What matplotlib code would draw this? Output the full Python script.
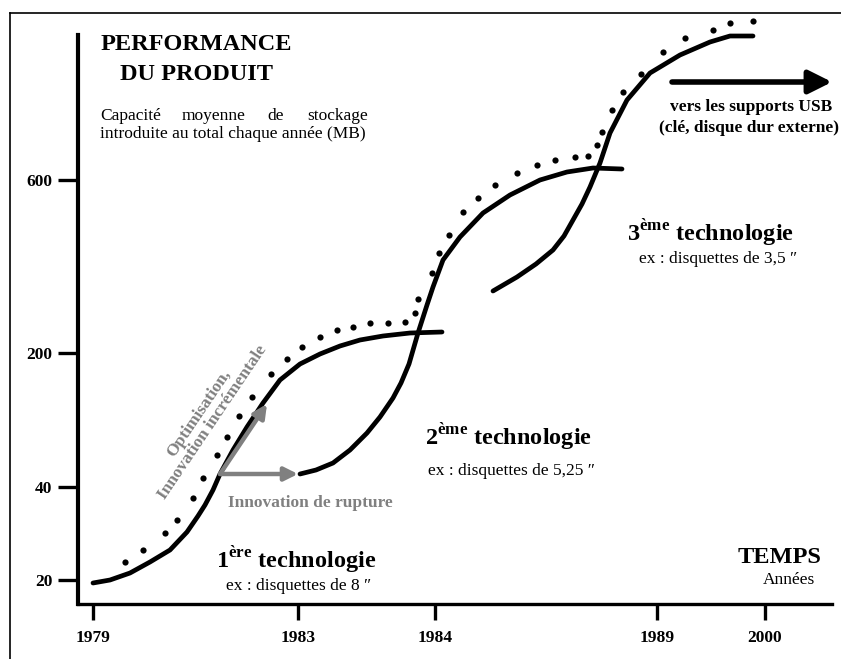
import matplotlib.pyplot as plt
from matplotlib.lines import Line2D

plt.rcParams["font.family"] = ["Liberation Serif", "DejaVu Serif"]
plt.rcParams["mathtext.fontset"] = "custom"
plt.rcParams["mathtext.rm"] = "Liberation Serif"
plt.rcParams["mathtext.bf"] = "Liberation Serif:bold"

# schematic units: time along x, product performance along y
YEAR_POS = [15, 220, 357, 579, 687]
YEAR_LABELS = ["1979", "1983", "1984", "1989", "2000"]
PERF_POS = [24, 117, 251, 424]
PERF_LABELS = ["20", "40", "200", "600"]

# 1st technology (8" floppy)
tech1_x = [15, 32, 52, 72, 92, 109, 120, 127, 135, 142, 155, 169, 185, 202, 222, 242, 262, 282, 305, 332, 364]
tech1_y = [21, 24, 31, 42, 54, 72, 88, 99, 114, 130, 154, 177, 201, 224, 240, 250, 258, 264, 268, 271, 272]

# 2nd technology (5.25" floppy)
tech2_x = [222, 238, 255, 272, 289, 302, 315, 323, 331, 340, 349, 355, 365, 382, 405, 432, 462, 489, 515, 544]
tech2_y = [130, 134, 141, 154, 171, 187, 206, 221, 240, 271, 299, 317, 344, 367, 391, 409, 424, 432, 436, 435]

# 3rd technology (3.5" floppy)
tech3_x = [415, 439, 458, 475, 486, 495, 504, 512, 522, 532, 549, 572, 602, 632, 652, 675]
tech3_y = [313, 327, 340, 354, 368, 384, 400, 417, 441, 471, 504, 531, 549, 562, 568, 568]

# dotted envelope: incremental optimisation of the successive technologies
env_x = [47, 65, 87, 99, 115, 125, 139, 149, 161, 174, 193, 209, 224, 242, 259, 275, 292, 310,
         327, 337, 340, 354, 361, 371, 385, 400, 417, 439, 459, 477, 497, 510, 519, 524, 534,
         545, 563, 585, 607, 635, 652, 675]
env_y = [42, 54, 71, 84, 106, 126, 149, 167, 188, 207, 230, 245, 257, 267, 274, 277, 281, 281,
         282, 291, 305, 331, 351, 369, 392, 406, 419, 431, 439, 444, 447, 448, 459, 472, 494,
         512, 530, 552, 566, 574, 581, 583]

# arrows: (start, end)
incremental_arrow = ((142, 130), (189, 200))
rupture_arrow = ((142, 130), (220, 130))
usb_arrow = ((594, 522), (754, 522))

GRAY = "#808080"
W, H = 841, 659

fig = plt.figure(figsize=(W / 100, H / 100), dpi=100)
fig.patch.set_facecolor("white")

# outer frame (top and left edges only are visible)
fig.add_artist(Line2D([9.5 / W, 1.0], [1 - 13 / H, 1 - 13 / H], color="black", lw=1.2))
fig.add_artist(Line2D([9.5 / W, 9.5 / W], [0.0, 1 - 13 / H], color="black", lw=1.2))

ax = fig.add_axes([78 / W, (H - 604) / H, 754 / W, 600 / H])
ax.set_xlim(0, 754)
ax.set_ylim(0, 600)
ax.patch.set_alpha(0)
for side in ["top", "right"]:
    ax.spines[side].set_visible(False)
ax.spines["left"].set_linewidth(3.0)
ax.spines["bottom"].set_linewidth(2.4)
ax.spines["left"].set_bounds(0, 569)
for sp in ax.spines.values():
    sp.set_capstyle("projecting")

ax.set_xticks(YEAR_POS)
ax.set_xticklabels(YEAR_LABELS, fontweight="bold", fontsize=12.5)
ax.set_yticks(PERF_POS)
ax.set_yticklabels(PERF_LABELS, fontweight="bold", fontsize=12.5)
ax.tick_params(axis="x", length=11.5, width=2.4, pad=7)
ax.tick_params(axis="y", length=14.5, width=2.4, pad=4)

line_kw = dict(color="black", lw=3.4, solid_capstyle="round", solid_joinstyle="round", zorder=3)
ax.plot(tech1_x, tech1_y, **line_kw)
ax.plot(tech2_x, tech2_y, **line_kw)
ax.plot(tech3_x, tech3_y, **line_kw)
ax.scatter(env_x, env_y, s=20, color="black", linewidths=0, zorder=3, clip_on=False)

for (x0, y0), (x1, y1) in [incremental_arrow, rupture_arrow]:
    ax.annotate("", xy=(x1, y1), xytext=(x0, y0),
                arrowprops=dict(arrowstyle="-|>", color=GRAY, lw=3.2,
                                mutation_scale=20, shrinkA=0, shrinkB=0), zorder=4)
(x0, y0), (x1, y1) = usb_arrow
ax.annotate("", xy=(x1, y1), xytext=(x0, y0), annotation_clip=False,
            arrowprops=dict(arrowstyle="-|>,head_length=0.7,head_width=0.35", color="black",
                            lw=4, mutation_scale=20, shrinkA=0, shrinkB=0))

# title of the vertical axis
ax.text(118, 560, "PERFORMANCE", ha="center", va="center", fontsize=17.5, fontweight="bold")
ax.text(118, 530, "DU PRODUIT", ha="center", va="center", fontsize=17.5, fontweight="bold")
# justified two-line description
ax.text(22, 484, "Capacité", ha="left", va="baseline", fontsize=12.5)
ax.text(104, 484, "moyenne", ha="left", va="baseline", fontsize=12.5)
ax.text(189, 484, "de", ha="left", va="baseline", fontsize=12.5)
ax.text(290, 484, "stockage", ha="right", va="baseline", fontsize=12.5)
ax.text(22, 466, "introduite au total chaque année (MB)", ha="left", va="baseline", fontsize=12.5)

ax.text(128, 186, "Optimisation,\nInnovation incrémentale", rotation=56, rotation_mode="anchor",
        ha="center", va="center", multialignment="center", fontsize=12.5,
        fontweight="bold", color=GRAY, linespacing=1.05)
ax.text(232, 101, "Innovation de rupture", ha="center", va="center", fontsize=12.5,
        fontweight="bold", color=GRAY)

ax.text(218, 36, r"$\mathbf{1}^{\mathbf{ère}}$ technologie", ha="center", va="baseline",
        fontsize=17.5, fontweight="bold")
ax.text(221, 14, "ex : disquettes de 8 \u2033", ha="center", va="baseline", fontsize=12.5)
ax.text(430, 159, r"$\mathbf{2}^{\mathbf{ème}}$ technologie", ha="center", va="baseline",
        fontsize=17.5, fontweight="bold")
ax.text(433, 129, "ex : disquettes de 5,25 \u2033", ha="center", va="baseline", fontsize=12.5)
ax.text(632, 363, r"$\mathbf{3}^{\mathbf{ème}}$ technologie", ha="center", va="baseline",
        fontsize=17.5, fontweight="bold")
ax.text(640, 341, "ex : disquettes de 3,5 \u2033", ha="center", va="baseline", fontsize=12.5)

ax.text(702, 41, "TEMPS", ha="center", va="baseline", fontsize=17.5, fontweight="bold")
ax.text(711, 20, "Années", ha="center", va="baseline", fontsize=12.5)

ax.text(673, 493, "vers les supports USB", ha="center", va="baseline", fontsize=12.5,
        fontweight="bold")
ax.text(671, 472, "(clé, disque dur externe)", ha="center", va="baseline", fontsize=12.5,
        fontweight="bold", clip_on=False)

fig.savefig("out.png", dpi=100, facecolor="white")
